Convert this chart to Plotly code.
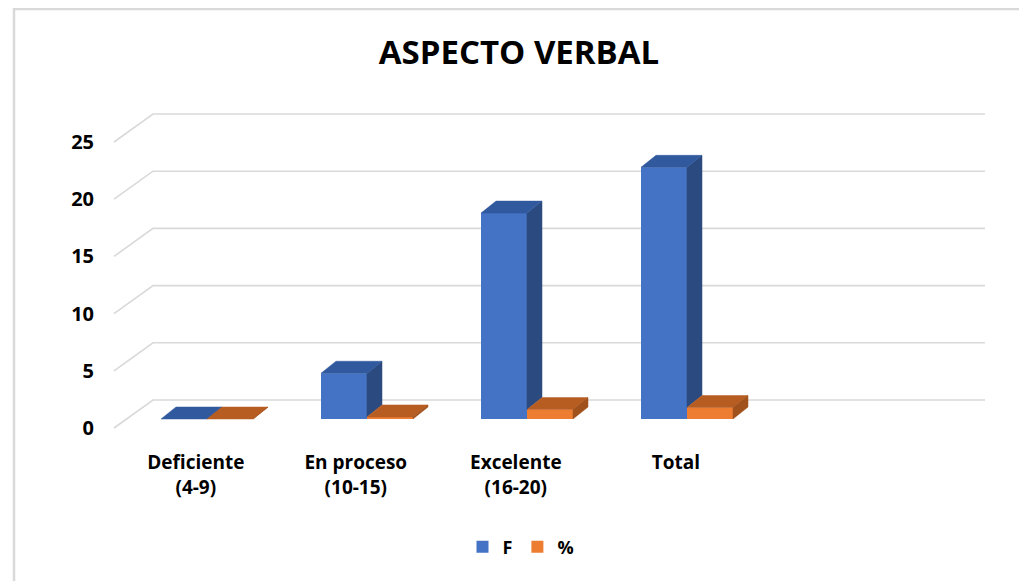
import plotly.graph_objects as go

# ---- data ----
categories = ["Deficiente<br>(4-9)", "En proceso<br>(10-15)", "Excelente<br>(16-20)", "Total"]
f_values = [0, 4, 18, 22]
pct_values = [0, 0.18, 0.82, 1.00]
y_ticks = [0, 5, 10, 15, 20, 25]
series_names = ["F", "%"]

# ---- geometry: page body adds 8px offset, so figure pixels = screen - 8 ----
OFF = 8
FIG_W, FIG_H = 1027 - OFF, 581 - OFF
PX_X = 160.0      # px per category unit
PX_Y = 11.44      # px per value unit
CX0 = 207 - OFF   # pixel of first category centre
BASE = 419 - OFF  # pixel of value 0 in bar plane
L_MARGIN = 98 - OFF
PLOT_BOTTOM = 445 - OFF

BAR_W = 46 / PX_X
DDX = 15 / PX_X
DDY = 12 / PX_Y
FRONT_X = (114 - 207) / PX_X
FRONT_DY = -9 / PX_Y
BACK_X_LEFT = (153 - 207) / PX_X
BACK_X_RIGHT = (985 - 207) / PX_X
BACK_DY = 19 / PX_Y

x0 = (L_MARGIN - CX0) / PX_X
x1 = x0 + (FIG_W - L_MARGIN) / PX_X
y_lo = (BASE - PLOT_BOTTOM) / PX_Y
y_hi = BASE / PX_Y

BLUE = "#4472C4"; BLUE_TOP = "#31599E"; BLUE_SIDE = "#2B4A7F"
ORANGE = "#ED7D31"; ORANGE_TOP = "#B85D22"; ORANGE_SIDE = "#A0511C"
GRID = "#D9D9D9"
FONT = "Open Sans"

xpos = list(range(len(categories)))
fig = go.Figure()

fig.add_trace(go.Bar(x=xpos, y=f_values, base=0, width=BAR_W, offset=-BAR_W,
                     marker=dict(color=BLUE, line=dict(width=0)), name=series_names[0],
                     hoverinfo="skip"))
fig.add_trace(go.Bar(x=xpos, y=pct_values, base=0, width=BAR_W, offset=0,
                     marker=dict(color=ORANGE, line=dict(width=0)), name=series_names[1],
                     hoverinfo="skip"))

def poly_trace(xs, ys, color):
    return go.Scatter(x=xs, y=ys, mode="lines", fill="toself", fillcolor=color,
                      line=dict(color=color, width=0.5), showlegend=False, hoverinfo="skip")

def top_face(left, h):
    return [left, left + BAR_W, left + BAR_W + DDX, left + DDX, left, None], \
           [h, h, h + DDY, h + DDY, h, None]

def side_face(left, h, base=0.0):
    r = left + BAR_W
    return [r, r, r + DDX, r + DDX, r, None], [base, h, h + DDY, base + DDY, base, None]

bsx, bsy, btx, bty = [], [], [], []
osx, osy, otx, oty = [], [], [], []
for i, (fv, pv) in enumerate(zip(f_values, pct_values)):
    lb = i - BAR_W
    lo = i
    sx, sy = side_face(lb, fv, base=min(pv, fv)); bsx += sx; bsy += sy
    tx, ty = top_face(lb, fv); btx += tx; bty += ty
    sx, sy = side_face(lo, pv); osx += sx; osy += sy
    tx, ty = top_face(lo, pv); otx += tx; oty += ty

fig.add_trace(poly_trace(bsx, bsy, BLUE_SIDE))
fig.add_trace(poly_trace(btx, bty, BLUE_TOP))
fig.add_trace(poly_trace(otx, oty, ORANGE_TOP))
fig.add_trace(poly_trace(osx, osy, ORANGE_SIDE))

shapes = []
for v in y_ticks:
    path = (f"M {FRONT_X},{v + FRONT_DY} L {BACK_X_LEFT},{v + BACK_DY} "
            f"L {BACK_X_RIGHT},{v + BACK_DY}")
    shapes.append(dict(type="path", path=path, xref="x", yref="y", layer="below",
                       line=dict(color=GRID, width=1.6)))

W_PLOT = FIG_W - L_MARGIN
H_PLOT = PLOT_BOTTOM
shapes.append(dict(type="rect", xref="paper", yref="paper",
                   x0=(14 - OFF - L_MARGIN) / W_PLOT, x1=(1022 - OFF - L_MARGIN) / W_PLOT,
                   y0=(H_PLOT - 600) / H_PLOT, y1=(H_PLOT - (8 - OFF) - 1) / H_PLOT,
                   line=dict(color=GRID, width=2.5), fillcolor="rgba(0,0,0,0)"))

fig.update_layout(
    width=FIG_W, height=FIG_H,
    margin=dict(l=L_MARGIN, r=0, t=0, b=FIG_H - PLOT_BOTTOM, autoexpand=False),
    paper_bgcolor="white", plot_bgcolor="white",
    barmode="overlay",
    shapes=shapes,
    title=dict(text="ASPECTO VERBAL", x=(519 - OFF) / FIG_W, xanchor="center",
               y=1 - (52 - OFF) / FIG_H, yanchor="middle", xref="container", yref="container",
               font=dict(family=FONT, size=33, color="#000000", weight="bold")),
    xaxis=dict(range=[x0, x1], showgrid=False, zeroline=False, showline=False,
               tickmode="array", tickvals=[i - 0.07 for i in xpos], ticktext=categories,
               ticks="", ticklabelstandoff=4,
               tickfont=dict(family=FONT, size=19, color="#000000", weight="bold"),
               fixedrange=True),
    yaxis=dict(range=[y_lo, y_hi], showgrid=False, zeroline=False, showline=False,
               tickmode="array", tickvals=[v + FRONT_DY for v in y_ticks],
               ticktext=[str(v) for v in y_ticks], ticks="", ticklabelstandoff=3,
               tickfont=dict(family=FONT, size=20, color="#000000", weight="bold"),
               fixedrange=True),
    legend=dict(orientation="h", x=(521 - OFF - L_MARGIN) / W_PLOT, xanchor="center",
                y=(PLOT_BOTTOM - (547 - OFF)) / PLOT_BOTTOM, yanchor="middle",
                font=dict(family=FONT, size=18, color="#000000", weight="bold"),
                itemwidth=30, bgcolor="rgba(0,0,0,0)"),
    showlegend=True,
)

fig.write_html("out.html")
